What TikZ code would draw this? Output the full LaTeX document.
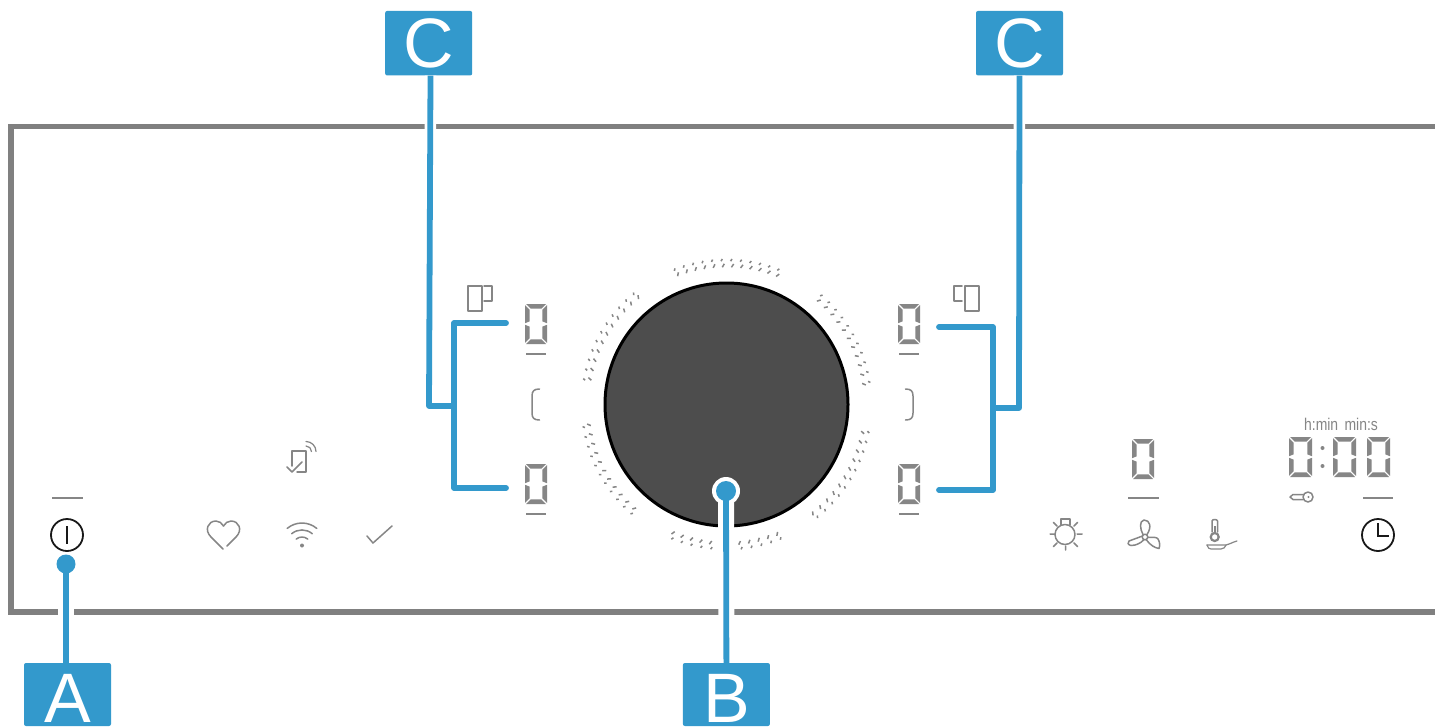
\documentclass[tikz,border=0pt]{standalone}
\usepackage{fontspec}
\usepackage{graphicx}
\setmainfont{Liberation Sans}
\definecolor{callout}{HTML}{3399CC}
\definecolor{panelgray}{HTML}{808080}
\definecolor{icongray}{HTML}{868686}
\definecolor{knobfill}{HTML}{4D4D4D}
\newcommand{\segdigit}[4]{% x y width height
  \pgfmathsetmacro{\dx}{#1}\pgfmathsetmacro{\dy}{#2}
  \pgfmathsetmacro{\dr}{#1+#3}\pgfmathsetmacro{\db}{#2+#4}
  \pgfmathsetmacro{\dm}{#2+#4/2}
  \fill[icongray] (\dx+1,\dy) -- (\dr-1,\dy) -- (\dr-5.6,\dy+4.6) -- (\dx+5.6,\dy+4.6) -- cycle;
  \fill[icongray] (\dx+1,\db) -- (\dr-1,\db) -- (\dr-5.6,\db-4.6) -- (\dx+5.6,\db-4.6) -- cycle;
  \fill[icongray] (\dx,\dy+1.2) -- (\dx+4.6,\dy+5.8) -- (\dx+4.6,\dm-2.6) -- (\dx,\dm-.8) -- cycle;
  \fill[icongray] (\dr,\dy+1.2) -- (\dr-4.6,\dy+5.8) -- (\dr-4.6,\dm-2.6) -- (\dr,\dm-.8) -- cycle;
  \fill[icongray] (\dx,\db-1.2) -- (\dx+4.6,\db-5.8) -- (\dx+4.6,\dm+2.6) -- (\dx,\dm+.8) -- cycle;
  \fill[icongray] (\dr,\db-1.2) -- (\dr-4.6,\db-5.8) -- (\dr-4.6,\dm+2.6) -- (\dr,\dm+.8) -- cycle;
}
\newcommand{\tickarc}[3]{% start angle, next angle, end angle
  \foreach \a in {#1,#2,...,#3}{
    \draw[ticksty] ({726.5+144.5*cos(\a)-1.3*cos(\a-32)},{404.5-144.5*sin(\a)+1.3*sin(\a-32)}) -- ({726.5+144.5*cos(\a)+1.3*cos(\a-32)},{404.5-144.5*sin(\a)-1.3*sin(\a-32)});
    \draw[ticksty] ({726.5+139*cos(\a-.6)-2*cos(\a-32)},{404.5-139*sin(\a-.6)+2*sin(\a-32)}) -- ({726.5+139*cos(\a-.6)+2*cos(\a-32)},{404.5-139*sin(\a-.6)-2*sin(\a-32)});
  }
}
\tikzset{
  ticksty/.style={draw=icongray,line width=1.5pt},
  iconline/.style={draw=icongray,line width=1.5pt,line cap=round,line join=round},
  thinicon/.style={draw=icongray,line width=1.2pt,line cap=round,line join=round},
  bar/.style={draw=icongray,line width=2pt},
  blackicon/.style={draw=black!90,line width=1.8pt},
  lead/.style={draw=callout,line width=5.8pt,line cap=round,line join=round},
  halo/.style={draw=white,line width=11.5pt},
  labelbox/.style={fill=callout,rounded corners=2pt,minimum width=87pt,inner sep=0pt,text=white,font=\fontsize{70}{70}\selectfont,text depth=0pt},
  dot/.style={circle,fill=callout,inner sep=0pt,minimum size=#1},
}
\begin{document}
\begin{tikzpicture}[x=1pt,y=-1pt]
\useasboundingbox (0,0) rectangle (1435,726);
\fill[white] (0,0) rectangle (1435,726);
% panel frame
\draw[panelgray,line width=5.3pt] (1450,126.7) -- (11,126.7) -- (11,612) -- (1450,612);
% knob
\node[circle,fill=knobfill,draw=black,line width=3pt,minimum size=243pt,inner sep=0pt] (knob) at (726.5,404.5) {};
% tick rings
\tickarc{69}{72.82}{111.2}
\tickarc{9}{13}{50}
\tickarc{-51}{-47}{-9}
\tickarc{-84}{-80}{-68}
\tickarc{-112}{-108}{-96}
\tickarc{130}{134}{171}
\tickarc{189}{193}{230}
% digits
\segdigit{525}{304}{22}{40}
\segdigit{525}{464}{22}{40}
\segdigit{898}{304}{22}{40}
\segdigit{898}{464}{22}{40}
\segdigit{1132}{439}{22}{40}
\segdigit{1289}{437}{23}{40}
\segdigit{1333}{437}{23}{40}
\segdigit{1367}{437}{23}{40}
\fill[icongray] (1322.5,448) circle (2) (1322.5,466) circle (2);
% bars
\draw[bar] (526,354) -- (546,354);
\draw[bar] (526,514) -- (546,514);
\draw[bar] (899,354) -- (919,354);
\draw[bar] (899,514) -- (919,514);
\draw[bar] (52,498) -- (83,498);
\draw[bar] (1128,498) -- (1159,498);
\draw[bar] (1363,498) -- (1393,498);
% brackets
\draw[iconline] (539.5,389) .. controls (534,389) and (532,391) .. (532,396) -- (532,413) .. controls (532,418) and (534,420) .. (539.5,420);
\draw[iconline] (905.5,389) .. controls (911,389) and (913,391) .. (913,396) -- (913,413) .. controls (913,418) and (911,420) .. (905.5,420);
% zone icons
\draw[iconline] (468,286) rectangle (482,311);
\draw[iconline] (484,286) -- (492,286) -- (492,301) -- (484,301);
\draw[iconline] (965,286) rectangle (979,311);
\draw[iconline] (962,286) -- (954,286) -- (954,301) -- (962,301);
% time caption
\node[inner sep=0pt,text=icongray] (timecap) at (1341,424) {\scalebox{0.82}[1]{\fontsize{17}{17}\selectfont h:min\hspace{3pt} min:s}};
% key
\draw[iconline] (1308,497) circle (5);
\fill[icongray] (1308.5,497) circle (1.2);
\draw[iconline] (1303,494.5) -- (1293,494.5) -- (1290,497) -- (1293,499.5) -- (1303,499.5);
% clock
\draw[blackicon] (1378,535) circle (16);
\draw[blackicon] (1378,523) -- (1378,536) -- (1389,536);
% lamp
\draw[iconline] (1065,534.5) circle (10);
\draw[iconline] (1061,525) -- (1061,519) -- (1070,519) -- (1070,525);
\draw[iconline] (1050,534) -- (1055,534) (1077,534) -- (1082,534) (1065.5,546) -- (1065.5,550)
  (1053.5,522.5) -- (1057,526) (1077.5,522.5) -- (1074,526) (1053.5,546.5) -- (1057,543) (1077.5,546.5) -- (1074,543);
% fan
\draw[iconline] (1145,537) circle (2.8);
\draw[iconline] (1143,534.5) .. controls (1140,529) and (1139,521) .. (1144,520) .. controls (1150,520) and (1152,527) .. (1147,534.5);
\draw[iconline] (1142.5,536) -- (1129,541) .. controls (1127,542.5) and (1128,545) .. (1131,545.5) .. controls (1136,545.5) and (1141,543) .. (1143.5,540);
\draw[iconline] (1148,537.5) .. controls (1152,537) and (1157,537) .. (1158,539) .. controls (1160,542) and (1160,546) .. (1159,548.5) .. controls (1155,548) and (1150,545) .. (1146.5,540);
% thermometer and pan
\draw[iconline] (1212,532) -- (1212,521) .. controls (1212,519) and (1217.5,519) .. (1217.5,521) -- (1217.5,532);
\draw[icongray,line width=2.2pt] (1214.7,537) circle (4);
\fill[icongray] (1213.5,526) rectangle (1216,534);
\draw[thinicon] (1207,545) -- (1226,545) .. controls (1230,544) and (1233,542) .. (1237,541);
\draw[thinicon] (1207,545) .. controls (1208,548) and (1209,549) .. (1211,549) -- (1221,549) .. controls (1224,549) and (1225,547) .. (1226,545);
% power
\draw[blackicon] (67,535) circle (16);
\draw[blackicon,line width=1.6pt] (67,526) -- (67,544);
% heart
\draw[iconline] (223,549) -- (211,537) .. controls (204,530) and (208,521) .. (216,521) .. controls (219,521) and (222,523) .. (223.5,526) .. controls (225,523) and (228,521) .. (231,521) .. controls (239,521) and (243,530) .. (236,537) -- (227,546);
% wifi
\draw[iconline] (287.2,528.4) arc (-130:-50:23);
\draw[iconline] (291.7,533.7) arc (-130:-50:16);
\draw[iconline] (296.2,539.1) arc (-130:-50:9);
\fill[icongray] (302,545.5) circle (2);
% check
\draw[iconline] (367,536) -- (373,543) -- (392,526);
% phone
\draw[iconline] (292,466) -- (292,451) -- (306,451) -- (306,472) -- (297,472);
\draw[iconline] (287,467) -- (292,472) -- (302,462);
\draw[thinicon] (306,446) arc (-90:0:5.5);
\draw[thinicon] (306,441.5) arc (-90:0:10);
% label boxes
\node[labelbox,minimum height=64.5pt,text height=49pt] (cl) at (428.7,43.2) {C};
\node[labelbox,minimum height=64.5pt,text height=49pt] (cr) at (1019.5,43.2) {C};
\node[labelbox,minimum height=63pt,text height=55pt] (a) at (67.5,694.5) {A};
\node[labelbox,minimum height=63pt,text height=55pt] (b) at (726.4,694.5) {B};
% connector end points
\coordinate (cltop) at ([xshift=1.8pt]cl.south);
\coordinate (abot) at ([xshift=-1.5pt]a.north);
\coordinate (aend) at (66,564);
\coordinate (bend) at (726,491);
\coordinate (cljoin) at (429,406);
\coordinate (clstem) at (454,406);
\coordinate (clt) at (506,323);
\coordinate (clb) at (506,488);
\coordinate (cltc) at (454,323);
\coordinate (clbc) at (454,488);
\coordinate (crjoin) at (1019,408);
\coordinate (crstem) at (993,408);
\coordinate (crt) at (939,327);
\coordinate (crb) at (939,490);
\coordinate (crtc) at (993,327);
\coordinate (crbc) at (993,490);
% halos
\draw[halo] (cltop) -- (cljoin);
\draw[halo] (cr.south) -- (crjoin);
\draw[halo,line width=16pt] (aend) -- (abot);
\draw[halo,line width=16pt] (bend) -- (b.north);
\node[circle,fill=white,minimum size=28pt,inner sep=0pt] (bhalo) at (bend) {};
% leads
\draw[lead,line cap=butt] (cltop) -- (cljoin) -- (clstem);
\draw[lead] (clt) -- (cltc) -- (clbc) -- (clb);
\draw[lead,line cap=butt] (cr.south) -- (crjoin) -- (crstem);
\draw[lead] (crt) -- (crtc) -- (crbc) -- (crb);
\draw[lead,line cap=butt] (aend) -- (abot);
\draw[lead,line cap=butt] (bend) -- (b.north);
\node[dot=19pt] (adot) at (aend) {};
\node[dot=20pt] (bdot) at (bend) {};
\end{tikzpicture}
\end{document}
